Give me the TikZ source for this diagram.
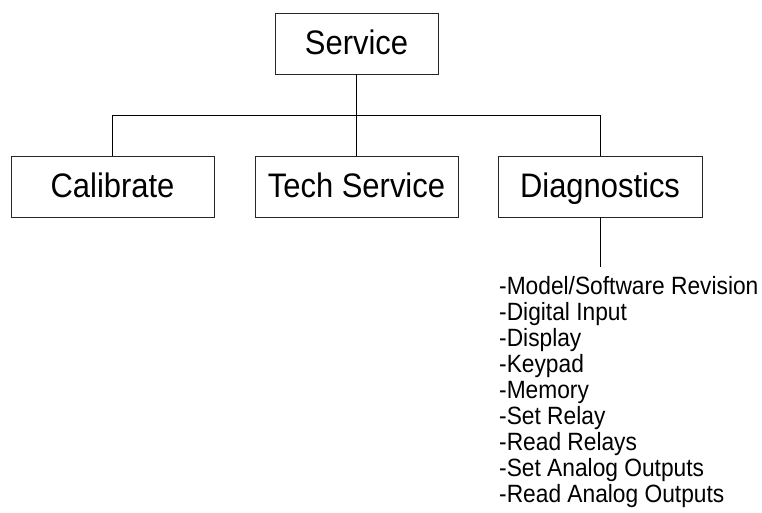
\documentclass[tikz,border=0pt]{standalone}
\usepackage{fontspec}
\setmainfont{Liberation Sans}
\newfontfamily\narrowsans[FakeStretch=0.91]{Liberation Sans}
\begin{document}
\begin{tikzpicture}[x=1pt,y=-1pt,
  menubox/.style={draw=black!85,line width=0.9pt,minimum width=#1,minimum height=61pt,inner sep=0pt,
    text height=24pt,text depth=2pt,
    font=\narrowsans\fontsize{34}{38}\selectfont},
  link/.style={draw=black,line width=0.8pt},
  listtext/.style={align=left,inner sep=0pt,anchor=north west,
    font=\narrowsans\fontsize{25}{26}\selectfont}]
\useasboundingbox (0,0) rectangle (762,513);
\node[menubox=163pt] (serv) at (356.5,43.5) {Service};
\node[menubox=203pt] (cal) at (112.5,186.5) {Calibrate};
\node[menubox=203pt] (tech) at (356.5,186.5) {Tech Service};
\node[menubox=204pt] (diag) at (600,186.5) {Diagnostics};
\coordinate (busL) at (112.5,115);
\coordinate (busR) at (600,115);
\coordinate (diagend) at (600,267);
\draw[link] (serv.south) -- (tech.north);
\draw[link] (cal.north) -- (busL) -- (busR) -- (diag.north);
\draw[link] (diag.south) -- (diagend);
\node[listtext] (dlist) at (499,276.5) {-Model/Software Revision\\-Digital Input\\-Display\\-Keypad\\-Memory\\-Set Relay\\-Read Relays\\-Set Analog Outputs\\-Read Analog Outputs};
\end{tikzpicture}
\end{document}
